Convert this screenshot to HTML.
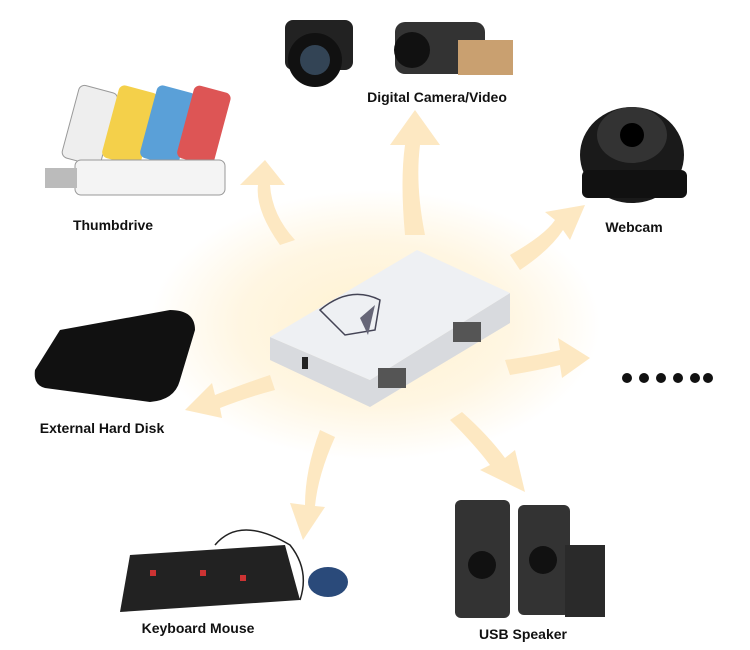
<!DOCTYPE html>
<html><head><meta charset="utf-8"><style>
body{margin:0;background:#fff;}
.l{position:absolute;font-family:"Liberation Sans",sans-serif;font-weight:bold;font-size:14px;color:#111;white-space:nowrap;transform:translateX(-50%);}
</style></head><body>
<div style="position:relative;width:750px;height:650px;overflow:hidden;">
<svg width="750" height="650" style="position:absolute;left:0;top:0">
<defs>
<radialGradient id="g" cx="50%" cy="50%" r="50%">
<stop offset="0" stop-color="#fff1cf"/><stop offset="0.6" stop-color="#fff6e2"/><stop offset="1" stop-color="#ffffff"/>
</radialGradient>
</defs>
<ellipse cx="375" cy="325" rx="225" ry="135" fill="url(#g)"/>
<g fill="#fde8c2">
<path d="M280,245 Q255,210 258,185 L240,185 L265,160 L285,185 L270,185 Q272,215 295,240 Z"/>
<path d="M405,235 Q400,180 405,145 L390,145 L415,110 L440,145 L420,145 Q415,185 425,235 Z"/>
<path d="M510,255 Q545,235 555,220 L545,212 L585,205 L570,240 L563,230 Q550,250 520,270 Z"/>
<path d="M505,360 Q540,355 560,350 L558,338 L590,358 L562,378 L560,365 Q540,370 510,375 Z"/>
<path d="M270,375 Q240,385 215,395 L212,383 L185,410 L222,418 L220,408 Q245,398 275,390 Z"/>
<path d="M320,430 Q305,470 305,505 L290,503 L303,540 L325,507 L315,506 Q318,475 335,437 Z"/>
<path d="M450,420 Q475,445 490,465 L480,470 L525,492 L515,450 L505,458 Q488,435 462,412 Z"/>
</g>
<polygon points="270,360 370,407 510,323 510,293 370,380 270,337" fill="#d8dade"/>
<polygon points="270,337 417,250 510,293 370,380" fill="#eef0f3"/>
<rect x="378" y="368" width="28" height="20" fill="#555"/>
<rect x="453" y="322" width="28" height="20" fill="#555"/>
<rect x="302" y="357" width="6" height="12" fill="#222"/>
<path d="M320,310 Q350,285 380,300 L375,330 L345,335 Z" fill="none" stroke="#445" stroke-width="1.5"/>
<polygon points="360,318 375,305 368,335" fill="#667"/>
<g>
<rect x="70" y="88" width="40" height="75" rx="6" fill="#eee" stroke="#999" transform="rotate(15 90 125)"/>
<rect x="110" y="88" width="40" height="75" rx="6" fill="#f4d04a" transform="rotate(15 130 125)"/>
<rect x="148" y="88" width="40" height="75" rx="6" fill="#5aa0d8" transform="rotate(15 168 125)"/>
<rect x="185" y="88" width="38" height="75" rx="6" fill="#d55" transform="rotate(15 204 125)"/>
<rect x="75" y="160" width="150" height="35" rx="6" fill="#f4f4f4" stroke="#999"/>
<rect x="45" y="168" width="32" height="20" fill="#bbb"/>
</g>
<rect x="285" y="20" width="68" height="50" rx="8" fill="#222"/>
<circle cx="315" cy="60" r="27" fill="#111"/><circle cx="315" cy="60" r="15" fill="#345"/>
<rect x="395" y="22" width="90" height="52" rx="10" fill="#333"/>
<circle cx="412" cy="50" r="18" fill="#111"/>
<rect x="458" y="40" width="55" height="35" fill="#c9a070"/>
<ellipse cx="632" cy="155" rx="52" ry="48" fill="#1a1a1a"/>
<ellipse cx="632" cy="135" rx="35" ry="28" fill="#333"/>
<circle cx="632" cy="135" r="12" fill="#000"/>
<rect x="582" y="170" width="105" height="28" rx="6" fill="#111"/>
<path d="M60,330 L170,310 Q195,310 195,330 L180,380 Q175,400 150,402 L45,388 Q33,385 35,370 Z" fill="#111"/>
<polygon points="130,555 285,545 300,600 120,612" fill="#222"/>
<g fill="#c33"><rect x="150" y="570" width="6" height="6"/><rect x="200" y="570" width="6" height="6"/><rect x="240" y="575" width="6" height="6"/></g>
<path d="M215,545 Q240,515 290,545 Q310,570 300,600" fill="none" stroke="#222" stroke-width="1.5"/>
<ellipse cx="328" cy="582" rx="20" ry="15" fill="#2a4a7a"/>
<rect x="455" y="500" width="55" height="118" rx="6" fill="#333"/>
<rect x="518" y="505" width="52" height="110" rx="6" fill="#333"/>
<rect x="565" y="545" width="40" height="72" fill="#2a2a2a"/>
<circle cx="482" cy="565" r="14" fill="#111"/><circle cx="543" cy="560" r="14" fill="#111"/>
<g fill="#111"><circle cx="627" cy="378" r="5"/><circle cx="644" cy="378" r="5"/><circle cx="661" cy="378" r="5"/><circle cx="678" cy="378" r="5"/><circle cx="695" cy="378" r="5"/><circle cx="708" cy="378" r="5"/></g>
</svg>
<div class="l" style="left:437px;top:89px">Digital Camera/Video</div>
<div class="l" style="left:113px;top:217px">Thumbdrive</div>
<div class="l" style="left:634px;top:219px">Webcam</div>
<div class="l" style="left:102px;top:420px">External Hard Disk</div>
<div class="l" style="left:198px;top:620px">Keyboard Mouse</div>
<div class="l" style="left:523px;top:626px">USB Speaker</div>
</div>
</body></html>
